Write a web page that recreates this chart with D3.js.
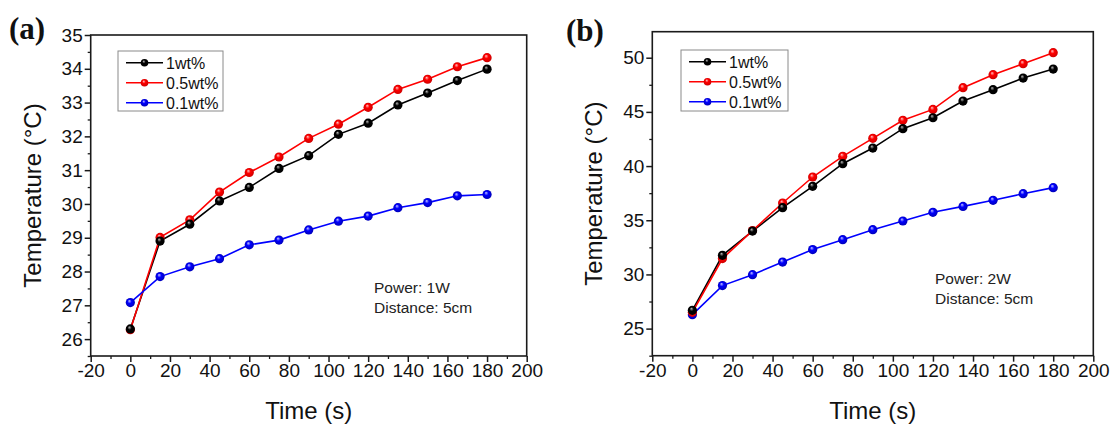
<!DOCTYPE html>
<html>
<head>
<meta charset="utf-8">
<script src="https://cdn.jsdelivr.net/npm/d3@7"></script>
<style>
  html, body { margin: 0; padding: 0; background: #fff; }
  svg { display: block; }
  text { font-family: "Liberation Sans", Arial, sans-serif; fill: #111; }
  text.panel-label { font-family: "Liberation Serif", "Times New Roman", serif; font-weight: bold; }
</style>
</head>
<body>
<svg id="chart" width="1113" height="426"></svg>
<script>
// Heating time (s)
const times = [0, 15, 30, 45, 60, 75, 90, 105, 120, 135, 150, 165, 180];
const seriesNames = ["1wt%", "0.5wt%", "0.1wt%"];
const seriesColors = ["#000000", "#ff0000", "#0000ff"];

// Panel (a): Power 1W, distance 5cm — temperature (°C)
const tempA_1wt  = [26.3, 28.9, 29.4, 30.09, 30.49, 31.05, 31.43, 32.06, 32.39, 32.93, 33.28, 33.65, 33.99];
const tempA_05wt = [26.28, 29.01, 29.53, 30.35, 30.93, 31.39, 31.94, 32.36, 32.86, 33.39, 33.69, 34.06, 34.33];
const tempA_01wt = [27.08, 27.85, 28.14, 28.38, 28.79, 28.93, 29.23, 29.49, 29.64, 29.89, 30.04, 30.24, 30.28];

// Panel (b): Power 2W, distance 5cm — temperature (°C)
const tempB_1wt  = [26.69, 31.76, 34.0, 36.16, 38.13, 40.22, 41.66, 43.45, 44.46, 46.0, 47.05, 48.12, 48.95];
const tempB_05wt = [26.5, 31.46, 34.05, 36.59, 38.99, 40.9, 42.56, 44.22, 45.23, 47.23, 48.43, 49.45, 50.46];
const tempB_01wt = [26.29, 28.97, 29.98, 31.14, 32.29, 33.21, 34.13, 34.93, 35.73, 36.28, 36.84, 37.45, 38.01];

// Tick values
const xTicks = [-20, 0, 20, 40, 60, 80, 100, 120, 140, 160, 180, 200];
const xMinorTicks = [-10, 10, 30, 50, 70, 90, 110, 130, 150, 170, 190];
const yTicksA = [26, 27, 28, 29, 30, 31, 32, 33, 34, 35];
const yMinorTicksA = [25.5, 26.5, 27.5, 28.5, 29.5, 30.5, 31.5, 32.5, 33.5, 34.5];
const yTicksB = [25, 30, 35, 40, 45, 50];
const yMinorTicksB = [22.5, 27.5, 32.5, 37.5, 42.5, 47.5];

const svg = d3.select("#chart");
const plainNumber = d => String(d);   // keeps an ASCII hyphen for negatives

// Shaded ball markers
const defs = svg.append("defs");
seriesColors.forEach((c, i) => {
  const g = defs.append("radialGradient")
    .attr("id", "ball" + i)
    .attr("cx", "0.5").attr("cy", "0.5").attr("r", "0.55")
    .attr("fx", "0.38").attr("fy", "0.3");
  const light = i === 0 ? "#bbbbbb" : (i === 1 ? "#ffc8c8" : "#c8c8ff");
  const dark = i === 0 ? "#000000" : (i === 1 ? "#c80000" : "#0000b0");
  g.append("stop").attr("offset", "0%").attr("stop-color", light);
  g.append("stop").attr("offset", "40%").attr("stop-color", c);
  g.append("stop").attr("offset", "100%").attr("stop-color", dark);
});

function drawPanel(p) {
  const x = d3.scaleLinear().domain([-20, 200]).range([p.left, p.right]);
  const y = d3.scaleLinear().domain(p.yDomain).range([p.bottom, p.top]);
  const g = svg.append("g");

  // Frame
  g.append("rect")
    .attr("x", p.left).attr("y", p.top)
    .attr("width", p.right - p.left).attr("height", p.bottom - p.top)
    .attr("fill", "none").attr("stroke", "#1a1a1a").attr("stroke-width", 1.6);

  // Minor ticks
  const yMinor = d3.axisLeft(y).tickValues(p.yMinor).tickSize(3).tickFormat("");
  g.append("g").attr("transform", `translate(${p.left},0)`).call(yMinor)
    .call(s => s.select(".domain").remove())
    .selectAll("line").attr("stroke", "#1a1a1a").attr("stroke-width", 1.3);
  const xMinor = d3.axisBottom(x).tickValues(xMinorTicks).tickSize(3).tickFormat("");
  g.append("g").attr("transform", `translate(0,${p.bottom})`).call(xMinor)
    .call(s => s.select(".domain").remove())
    .selectAll("line").attr("stroke", "#1a1a1a").attr("stroke-width", 1.3);

  // Major axes
  const yAxis = d3.axisLeft(y).tickValues(p.yTicks).tickSize(6).tickPadding(2).tickFormat(plainNumber);
  const ya = g.append("g").attr("transform", `translate(${p.left},0)`).call(yAxis);
  ya.select(".domain").remove();
  ya.selectAll("line").attr("stroke", "#1a1a1a").attr("stroke-width", 1.5);
  ya.selectAll("text").style("font-size", "19px").style("fill", "#111");

  const xAxis = d3.axisBottom(x).tickValues(xTicks).tickSize(6).tickPadding(2).tickFormat(plainNumber);
  const xa = g.append("g").attr("transform", `translate(0,${p.bottom})`).call(xAxis);
  xa.select(".domain").remove();
  xa.selectAll("line").attr("stroke", "#1a1a1a").attr("stroke-width", 1.5);
  xa.selectAll("text").style("font-size", "19px").style("fill", "#111");

  // Axis titles
  g.append("text")
    .attr("x", (p.left + p.right) / 2).attr("y", 419)
    .attr("text-anchor", "middle").style("font-size", "24px")
    .text("Time (s)");
  g.append("text")
    .attr("transform", `translate(${p.yTitleX},${(p.top + p.bottom) / 2}) rotate(-90)`)
    .attr("text-anchor", "middle").style("font-size", "24px")
    .text("Temperature (°C)");

  // Panel label
  g.append("text")
    .attr("class", "panel-label")
    .attr("x", p.labelX).attr("y", p.labelY)
    .style("font-size", "31px")
    .text(p.label);

  // Series
  const line = d3.line().x((d, i) => x(times[i])).y(d => y(d));
  p.series.forEach((vals, si) => {
    g.append("path")
      .datum(vals)
      .attr("d", line)
      .attr("fill", "none")
      .attr("stroke", seriesColors[si])
      .attr("stroke-width", 1.6);
  });
  // markers drawn so the black series stays on top
  [2, 1, 0].forEach(si => {
    g.append("g").selectAll("circle")
      .data(p.series[si])
      .join("circle")
      .attr("cx", (d, i) => x(times[i]))
      .attr("cy", d => y(d))
      .attr("r", 4.6)
      .attr("fill", `url(#ball${si})`);
  });

  // Legend
  const lg = g.append("g");
  lg.append("rect")
    .attr("x", p.legend.x).attr("y", p.legend.y)
    .attr("width", p.legend.w).attr("height", p.legend.h)
    .attr("fill", "#fff").attr("stroke", "#8a8a8a").attr("stroke-width", 1);
  seriesNames.forEach((name, si) => {
    const ly = p.legend.y + 11.7 + si * 20;
    const lx = p.legend.x + 8;
    lg.append("line")
      .attr("x1", lx).attr("x2", lx + 37)
      .attr("y1", ly).attr("y2", ly)
      .attr("stroke", seriesColors[si]).attr("stroke-width", 1.6);
    lg.append("circle")
      .attr("cx", lx + 18.5).attr("cy", ly).attr("r", 3.8)
      .attr("fill", `url(#ball${si})`);
    lg.append("text")
      .attr("x", lx + 40).attr("y", ly + 5.8)
      .style("font-size", "16px")
      .text(name);
  });

  // Condition note
  g.append("text").attr("x", p.note.x).attr("y", p.note.y)
    .style("font-size", "15.5px").style("fill", "#222").text(p.note.power);
  g.append("text").attr("x", p.note.x).attr("y", p.note.y + 19.5)
    .style("font-size", "15.5px").style("fill", "#222").text("Distance: 5cm");
}

drawPanel({
  label: "(a)", labelX: 9, labelY: 39,
  left: 90.7, right: 526.7, top: 35, bottom: 356,
  yDomain: [25.5, 35], yTicks: yTicksA, yMinor: yMinorTicksA,
  yTitleX: 41,
  series: [tempA_1wt, tempA_05wt, tempA_01wt],
  legend: { x: 118, y: 51, w: 105, h: 60 },
  note: { x: 374, y: 293, power: "Power: 1W" }
});

drawPanel({
  label: "(b)", labelX: 566, labelY: 41,
  left: 652.3, right: 1093.3, top: 31.7, bottom: 355.7,
  yDomain: [22.5, 52.4], yTicks: yTicksB, yMinor: yMinorTicksB,
  yTitleX: 602,
  series: [tempB_1wt, tempB_05wt, tempB_01wt],
  legend: { x: 681, y: 50, w: 107, h: 61 },
  note: { x: 935, y: 284, power: "Power: 2W" }
});
</script>
</body>
</html>
